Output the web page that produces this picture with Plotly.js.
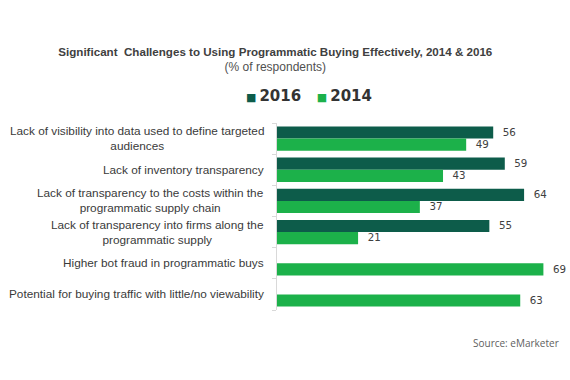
<!DOCTYPE html>
<html>
<head>
<meta charset="utf-8">
<script src="https://cdn.plot.ly/plotly-3.0.1.min.js"></script>
<style>html,body{margin:0;padding:0;background:#fff;}#chart{width:570px;height:380px;}</style>
</head>
<body>
<div id="chart"></div>
<script>
var categories = [
  "Lack of visibility into data used to define targeted<br>audiences",
  "Lack of inventory transparency",
  "Lack of transparency to the costs within the<br>programmatic supply chain",
  "Lack of transparency into firms along the<br>programmatic supply",
  "Higher bot fraud in programmatic buys",
  "Potential for buying traffic with little/no viewability"
];
var values2016 = [56, 59, 64, 55, null, null];
var values2014 = [49, 43, 37, 21, 69, 63];
var seriesNames = ["2016", "2014"];
var seriesColors = ["#0d5c4a", "#1cb14a"];

var catIdx = categories.map(function(_, i){ return i; });

var labelFont = {family: "Liberation Sans, Arial, sans-serif", size: 11.8, color: "#3a3a3a"};
var valueFont = {family: "DejaVu Sans, sans-serif", size: 11, color: "#404040"};

var traces = [
  {type: "bar", orientation: "h", name: seriesNames[0], y: catIdx, x: values2016,
   marker: {color: seriesColors[0]}, texttemplate: "\u00a0\u00a0%{x}", textposition: "outside",
   textfont: valueFont, cliponaxis: false, hoverinfo: "x"},
  {type: "bar", orientation: "h", name: seriesNames[1], y: catIdx, x: values2014,
   marker: {color: seriesColors[1]}, texttemplate: "\u00a0\u00a0%{x}", textposition: "outside",
   textfont: valueFont, cliponaxis: false, hoverinfo: "x"}
];

var annotations = categories.map(function(c, i){
  return {xref: "paper", x: 0, yref: "y", y: i, text: c, showarrow: false,
          xanchor: "right", yanchor: "middle", align: "center", xshift: -11, font: labelFont};
});
annotations.push({xref: "paper", yref: "paper", x: 1, y: -0.176, xanchor: "right", yanchor: "middle",
  xshift: 1, text: "Source: eMarketer", showarrow: false,
  font: {family: "Open Sans, sans-serif", size: 10, color: "#606060"}});
// legend row
var legendText = seriesNames.map(function(n, i){
  return "<span style='color:" + seriesColors[i] + ";font-size:11px'>\u25A0</span>\u2009" + n;
}).join("\u00a0\u00a0\u00a0");
annotations.push({xref: "paper", yref: "paper", x: (244 - 277) / 283, y: 1 + (123 - 96) / 187,
  xanchor: "left", yanchor: "middle", showarrow: false, text: legendText,
  font: {family: "DejaVu Sans, sans-serif", size: 15, color: "#333333", weight: "bold"}});

var layout = {
  width: 570, height: 380,
  margin: {l: 277, r: 10, t: 123, b: 70},
  paper_bgcolor: "#ffffff", plot_bgcolor: "#ffffff",
  barmode: "group", bargap: 0.22, bargroupgap: 0,
  title: {
    text: "<b>Significant  Challenges to Using Programmatic Buying Effectively, 2014 & 2016</b><br><span style='font-size:12px;font-weight:normal;color:#505050'>(% of respondents)</span>",
    x: 0.483, xref: "container", xanchor: "center",
    y: 1 - 56/380, yref: "container", yanchor: "middle",
    font: {family: "Liberation Sans, Arial, sans-serif", size: 11.6, color: "#404040"}
  },
  showlegend: false,
  xaxis: {range: [0, 73.3], showgrid: false, zeroline: false, showticklabels: false, ticks: "", showline: false, fixedrange: true},
  yaxis: {type: "linear", range: [5.5, -0.5], showgrid: false, zeroline: false, showticklabels: false,
    showline: true, linecolor: "#d9d9d9", linewidth: 1, ticks: "outside", ticklen: 4, tickcolor: "#d9d9d9",
    tickvals: [-0.5, 0.5, 1.5, 2.5, 3.5, 4.5, 5.5], fixedrange: true},
  annotations: annotations,
  font: {family: "Liberation Sans, Arial, sans-serif"}
};

Plotly.newPlot("chart", traces, layout, {displayModeBar: false, staticPlot: true});
</script>
</body>
</html>
